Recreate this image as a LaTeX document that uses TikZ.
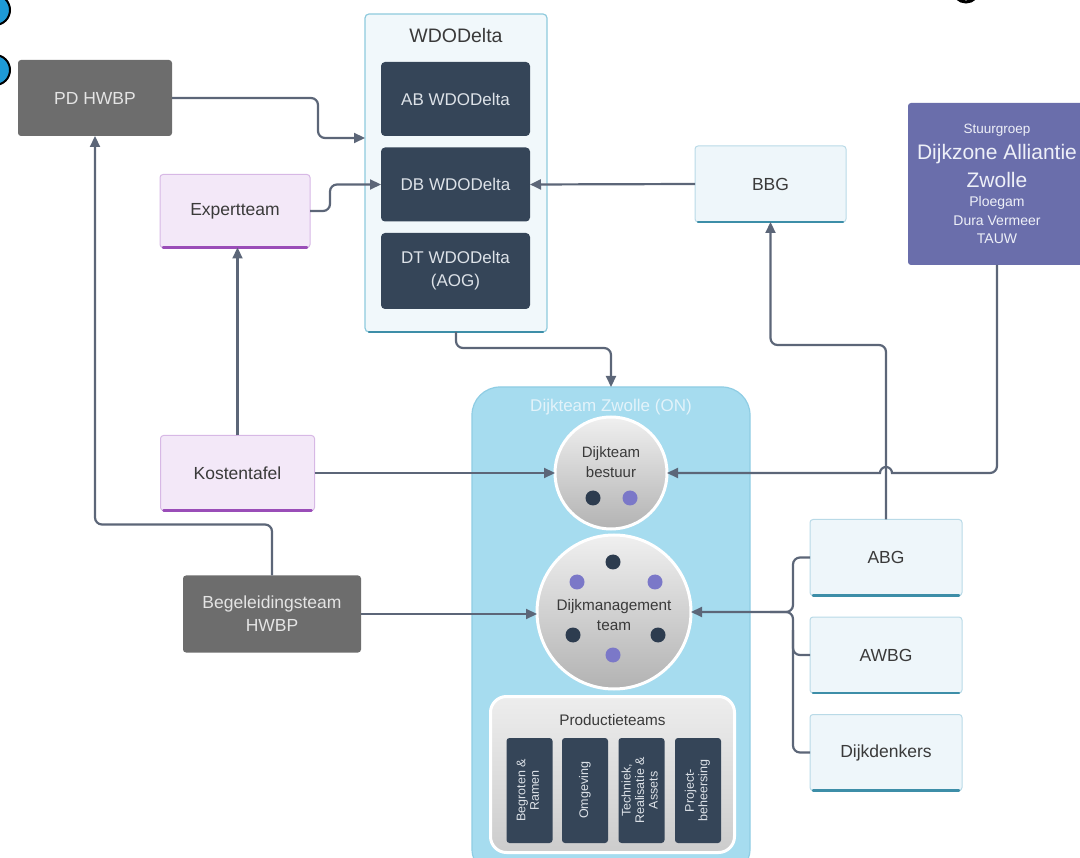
\documentclass[tikz,border=0pt]{standalone}
\usepackage{fontspec}
\setmainfont{Liberation Sans}
\usetikzlibrary{arrows.meta}

\newcommand\myfs[2]{\fontsize{#1}{#2}\selectfont}

\definecolor{connC}{HTML}{5C6678}
\definecolor{navyF}{HTML}{354558}
\definecolor{navyT}{HTML}{DDE2E8}
\definecolor{grayF}{HTML}{6D6D6D}
\definecolor{grayT}{HTML}{E4E4E4}
\definecolor{purF}{HTML}{F3E8F8}
\definecolor{purB}{HTML}{D7B8E5}
\definecolor{purD}{HTML}{9A4DB8}
\definecolor{lbF}{HTML}{EEF6FA}
\definecolor{lbB}{HTML}{B9DAE7}
\definecolor{lbD}{HTML}{3D8EA8}
\definecolor{wdoF}{HTML}{F1F8FB}
\definecolor{wdoB}{HTML}{8ECADD}
\definecolor{stgF}{HTML}{6A6EAB}
\definecolor{stgT}{HTML}{EEF0F8}
\definecolor{dzF}{HTML}{A6DCEF}
\definecolor{dzB}{HTML}{8FCDE4}
\definecolor{dzT}{HTML}{E3F3FA}
\definecolor{txtD}{HTML}{3A3A3A}
\definecolor{dotN}{HTML}{2D3C4F}
\definecolor{dotP}{HTML}{7B78C8}
\definecolor{blueDot}{HTML}{1E9AD6}

\begin{document}
\begin{tikzpicture}[x=1pt,y=-1pt,
  every node/.style={inner sep=0pt,outer sep=0pt},
  lbox/.style={draw=lbB,fill=lbF,line width=1pt,rounded corners=3pt,text=txtD,
    font=\myfs{17.5}{23},align=center},
  pbox/.style={draw=purB,fill=purF,line width=1pt,rounded corners=3pt,text=txtD,
    font=\myfs{17.5}{23},align=center},
  gbox/.style={fill=grayF,rounded corners=3pt,text=grayT,font=\myfs{17.5}{23},align=center},
  nbox/.style={fill=navyF,rounded corners=4pt,text=navyT,font=\myfs{17}{23},align=center,
    minimum width=149,minimum height=74},
  colbox/.style={fill=navyF,rounded corners=3pt,text=navyT,font=\myfs{12.5}{13.5},align=center,
    minimum width=46,minimum height=105},
  edgeL/.style={line width=2.5pt,line cap=round},
  orb/.style={circle,draw=white,line width=3pt,top color=gray!12,bottom color=gray!60,
    text=txtD,align=center},
  dotn/.style={circle,fill=dotN,minimum size=15},
  dotp/.style={circle,fill=dotP,minimum size=15},
  conn/.style={draw=connC,line width=2.2pt,rounded corners=7pt},
  arr/.style={conn,-{Triangle[length=11pt,width=10pt]}},
]
\useasboundingbox (0,0) rectangle (1080,858);
\clip (0,0) rectangle (1080,858);

% edge markers
\node[circle,fill=blueDot,draw=black,line width=2pt,minimum size=30] (m1) at (-5,10) {};
\node[circle,fill=blueDot,draw=black,line width=2pt,minimum size=30] (m2) at (-5,70) {};
\node[circle,fill=white,draw=black,line width=3pt,minimum size=26] (m3) at (966,-11) {};

% WDODelta
\node[draw=wdoB,fill=wdoF,line width=1.2pt,rounded corners=4pt,minimum width=182,minimum height=318] (wdo) at (456,173) {};
\draw[edgeL,draw=lbD] ([xshift=4pt]wdo.south west) -- ([xshift=-4pt]wdo.south east);
\node[text=txtD,font=\myfs{19.5}{23}] (wdot) at (456,36) {WDODelta};
\node[nbox] (ab) at (455.5,99) {AB WDODelta};
\node[nbox] (db) at (455.5,184.5) {DB WDODelta};
\node[nbox,minimum height=76] (dt) at (455.5,271) {DT WDODelta\\(AOG)};

% left column
\node[gbox,minimum width=154,minimum height=76] (pd) at (95,98) {PD HWBP};
\node[pbox,minimum width=150,minimum height=73] (exp) at (235,211) {Expertteam};
\draw[edgeL,draw=purD] ([xshift=3pt]exp.south west) -- ([xshift=-3pt]exp.south east);
\node[pbox,minimum width=154,minimum height=75] (kos) at (237.5,473) {Kostentafel};
\draw[edgeL,draw=purD] ([xshift=3pt]kos.south west) -- ([xshift=-3pt]kos.south east);
\node[gbox,minimum width=178,minimum height=77] (beg) at (272,614) {Begeleidingsteam\\HWBP};

% right column
\node[lbox,minimum width=151,minimum height=76] (bbg) at (770.5,184) {BBG};
\draw[edgeL,draw=lbD] ([xshift=3pt]bbg.south west) -- ([xshift=-3pt]bbg.south east);
\node[fill=stgF,rounded corners=3pt,minimum width=178,minimum height=162] (stg) at (997,184) {};
\node[text=stgT,font=\myfs{13.5}{16}] (s1) at (997,130) {Stuurgroep};
\node[text=stgT,font=\myfs{21}{25}] (s2) at (997,154) {Dijkzone Alliantie};
\node[text=stgT,font=\myfs{21}{25}] (s3) at (997,180) {Zwolle};
\node[text=stgT,font=\myfs{14}{17}] (s4) at (997,203) {Ploegam};
\node[text=stgT,font=\myfs{14}{17}] (s5) at (997,221) {Dura Vermeer};
\node[text=stgT,font=\myfs{14}{17}] (s6) at (997,239) {TAUW};

\node[lbox,minimum width=152,minimum height=76] (abg) at (886,557.5) {ABG};
\draw[edgeL,draw=lbD] ([xshift=3pt]abg.south west) -- ([xshift=-3pt]abg.south east);
\node[lbox,minimum width=152,minimum height=76] (awbg) at (886,655) {AWBG};
\draw[edgeL,draw=lbD] ([xshift=3pt]awbg.south west) -- ([xshift=-3pt]awbg.south east);
\node[lbox,minimum width=152,minimum height=76] (dkd) at (886,752.5) {Dijkdenkers};
\draw[edgeL,draw=lbD] ([xshift=3pt]dkd.south west) -- ([xshift=-3pt]dkd.south east);

% Dijkteam Zwolle
\node[draw=dzB,fill=dzF,line width=1.2pt,rounded corners=28pt,minimum width=278,minimum height=490] (dz) at (611,632) {};
\node[text=dzT,font=\myfs{17}{20}] (dzt) at (611,407) {Dijkteam Zwolle (ON)};

\node[orb,minimum size=112] (bes) at (611,473) {};
\node[text=txtD,font=\myfs{15}{20},align=center] (best) at (611,462) {Dijkteam\\bestuur};
\node[dotn] (b1) at (593,498) {};
\node[dotp] (b2) at (630,498) {};

\node[orb,minimum size=154] (dmt) at (614,612) {};
\node[text=txtD,font=\myfs{15.3}{20},align=center] (dmtt) at (614,615) {Dijkmanagement\\team};
\node[dotn] (d1) at (613,562) {};
\node[dotp] (d2) at (577,582) {};
\node[dotp] (d3) at (655,582) {};
\node[dotn] (d4) at (573,635) {};
\node[dotn] (d5) at (658,635) {};
\node[dotp] (d6) at (613,655) {};

\node[draw=white,line width=3pt,rounded corners=16pt,top color=gray!14,bottom color=gray!40,
  minimum width=244,minimum height=156] (prod) at (612.5,774.5) {};
\node[text=txtD,font=\myfs{15.3}{18}] (prodt) at (612.5,720) {Productieteams};
\node[colbox] (p1) at (529.5,790.5) {\rotatebox{90}{\begin{tabular}{@{}c@{}}Begroten \&\\Ramen\end{tabular}}};
\node[colbox] (p2) at (585,790.5) {\rotatebox{90}{Omgeving}};
\node[colbox] (p3) at (641.5,790.5) {\rotatebox{90}{\begin{tabular}{@{}c@{}}Techniek,\\Realisatie \&\\Assets\end{tabular}}};
\node[colbox] (p4) at (698,790.5) {\rotatebox{90}{\begin{tabular}{@{}c@{}}Project-\\beheersing\end{tabular}}};

% connectors
\draw[arr] (pd.east) -- (318,98) |- ([yshift=35pt]wdo.west);
\draw[arr] (exp.east) -- (330,211) |- (db.west);
\draw[arr] (bbg.west) -- (db.east);
\draw[arr] (wdo.south) -- ++(0,16) -| (dz.north);
\draw[arr] (kos.north) -- (exp.south -| kos.north);
\draw[arr] (beg.north) -- ++(0,-51) -| (pd.south);
\draw[arr] (kos.east) -- (bes.west);
\draw[arr,sharp corners] (stg.south) -- (997,466) arc[start angle=0,end angle=90,radius=7]
  -- (892,473) arc[start angle=0,end angle=-180,radius=6] -- (bes.east);
\draw[arr] (abg.north) -- (886,345) -| (bbg.south);
\draw[arr] (beg.east) -- (dmt.west |- beg.east);
\draw[arr] (abg.west) -- (793,557.5) -- (793,612) -- (dmt.east);
\draw[conn] (dkd.west) -- (793,752.5) -- (793,612) -- (770,612);
\draw[conn] (awbg.west) -- (793,655) -- (793,630);
\end{tikzpicture}
\end{document}
